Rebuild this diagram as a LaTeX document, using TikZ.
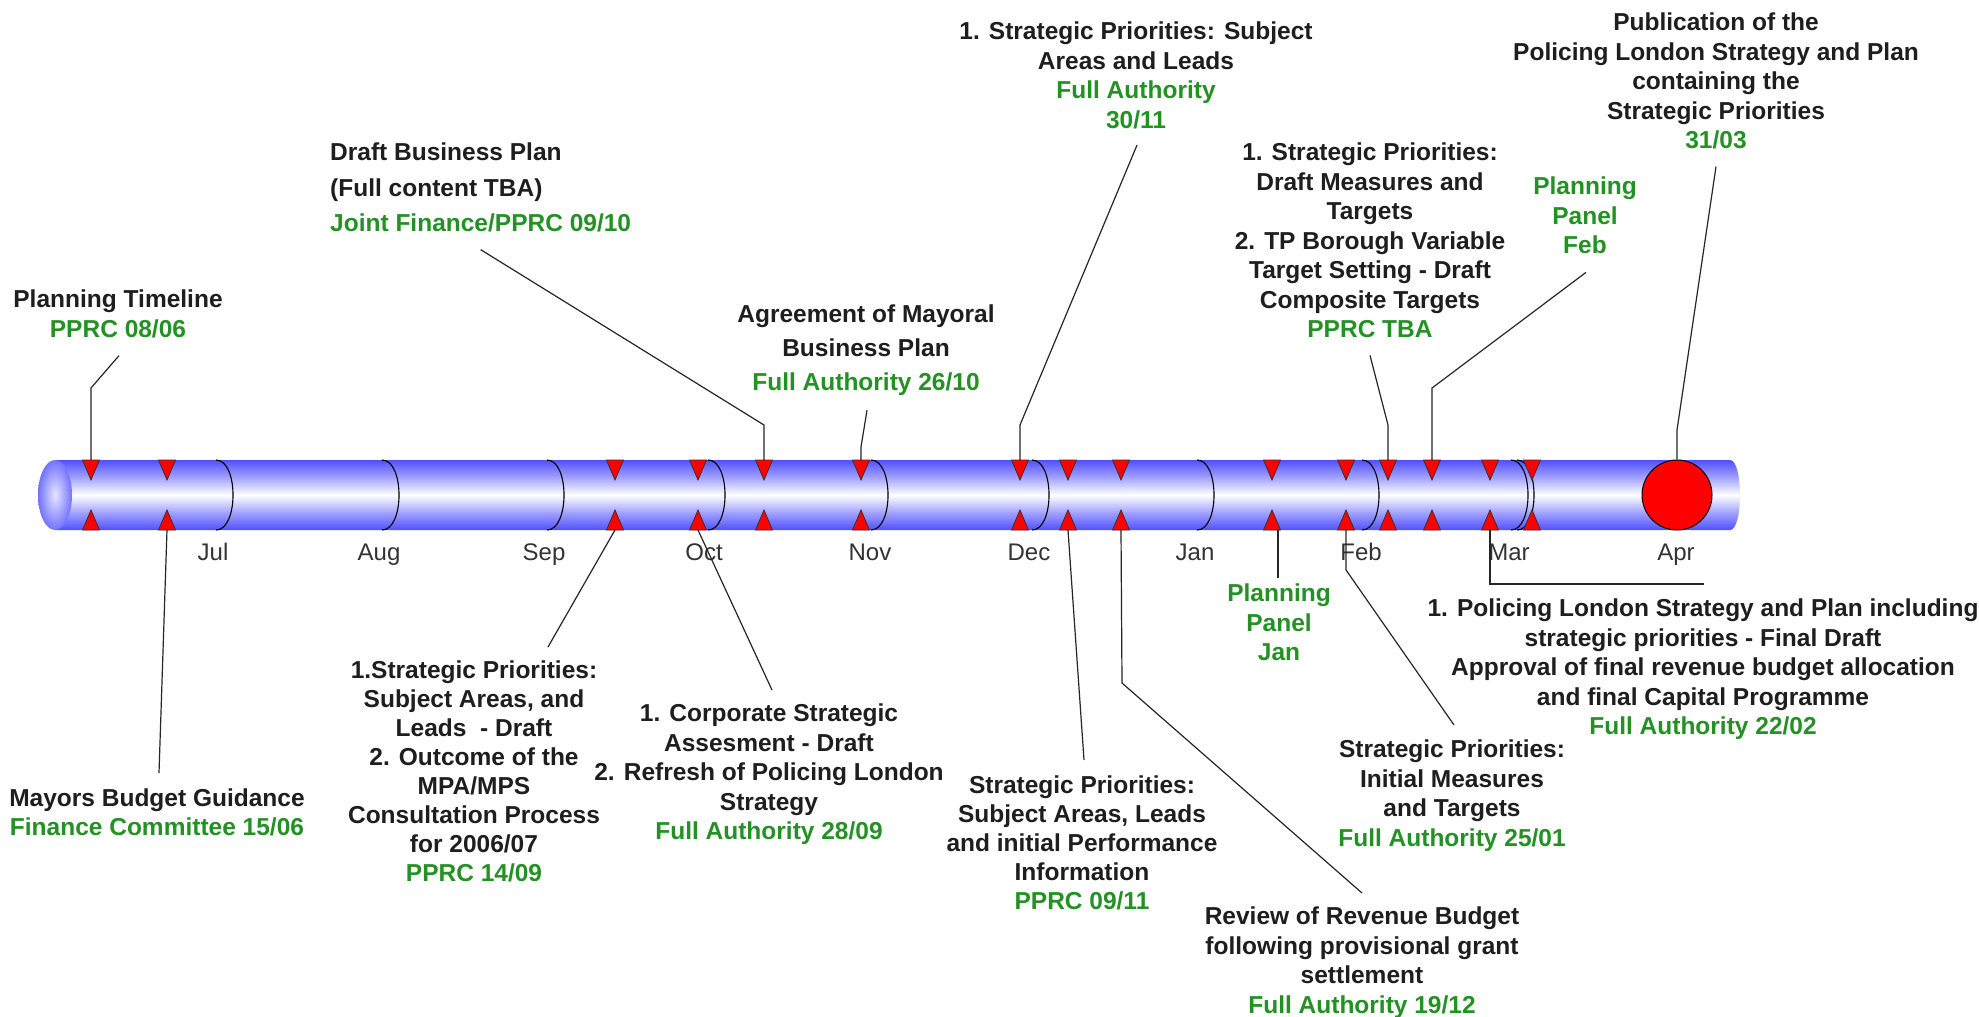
\documentclass[tikz,border=0pt]{standalone}
\usepackage{fontspec}
\setmainfont{Liberation Sans}
\usetikzlibrary{calc}
\definecolor{tubeblue}{RGB}{80,80,255}
\definecolor{lblgreen}{RGB}{35,145,35}
\definecolor{txt}{RGB}{30,30,30}
\newcommand{\grn}[1]{\textcolor{lblgreen}{#1}}
\pgfdeclareverticalshading{tubeshade}{100bp}{color(0bp)=(tubeblue); color(25bp)=(tubeblue); color(37bp)=(tubeblue!55!white); color(50bp)=(white); color(63bp)=(tubeblue!55!white); color(75bp)=(tubeblue); color(100bp)=(tubeblue)}
\begin{document}
\begin{tikzpicture}[x=1pt,y=-1pt,
  lbl/.style={align=center, inner sep=0pt, text=txt, anchor=north,
    font=\fontsize{24.5}{29.5}\selectfont\bfseries},
  conn/.style={draw=black!85, line width=1.2pt},
  tri/.style={fill=red, draw=black!80, line width=0.8pt},
  month/.style={font=\fontsize{24}{28}\selectfont, text=black!80, inner sep=0pt, anchor=base},
  marc/.style={draw=black, line width=1.1pt}
]
\useasboundingbox (0,0) rectangle (1979,1017);
\fill[white] (0,0) rectangle (1979,1017);

% tube
\shade[shading=tubeshade]
  (55,460) -- (1730,460) .. controls (1743.3,460) and (1743.3,530) .. (1730,530) -- (55,530) -- cycle;
\shade[inner color=white!85!tubeblue, outer color=tubeblue!80] (55,495) ellipse [x radius=17, y radius=35];

% month arcs
\foreach \x in {216,382,547,708,871,1032,1197,1362,1511,1517} {
  \draw[marc] (\x,460) .. controls (\x+22.7,460) and (\x+22.7,530) .. (\x,530);
}

% triangles
\foreach \x [count=\i] in {91,167,615,698,764,861,1020,1068,1121,1272,1346,1388,1432,1490,1532} {
  \filldraw[tri] (\x-8.5,460) -- (\x+8.5,460) -- (\x,480) -- cycle;
  \filldraw[tri] (\x-8.5,530) -- (\x+8.5,530) -- (\x,510) -- cycle;
  \coordinate (tt\i) at (\x,460);
  \coordinate (tb\i) at (\x,530);
}

% April circle
\node[circle, fill=red, draw=black, line width=1pt, minimum size=70pt, inner sep=0pt] (apr) at (1677,495) {};

% months
\node[month] (mJul) at (213,560) {Jul};
\node[month] (mAug) at (379,560) {Aug};
\node[month] (mSep) at (544,560) {Sep};
\node[month] (mOct) at (704,560) {Oct};
\node[month] (mNov) at (870,560) {Nov};
\node[month] (mDec) at (1029,560) {Dec};
\node[month] (mJan) at (1195,560) {Jan};
\node[month] (mFeb) at (1361,560) {Feb};
\node[month] (mMar) at (1509,560) {Mar};
\node[month] (mApr) at (1676,560) {Apr};

% labels above
\node[lbl, font=\fontsize{24.5}{30}\selectfont\bfseries] (A) at (118,290) {Planning Timeline\\\grn{PPRC 08/06}};
\node[lbl, anchor=north west, align=left, font=\fontsize{24.5}{35.5}\selectfont\bfseries] (C) at (330,143)
  {Draft Business Plan\\(Full content TBA)\\\grn{Joint Finance/PPRC 09/10}};
\node[lbl, font=\fontsize{24.5}{34}\selectfont\bfseries] (D) at (866,305)
  {Agreement of Mayoral\\Business Plan\\\grn{Full Authority 26/10}};
\node[lbl] (E) at (1136,22)
  {1. Strategic Priorities: Subject\\Areas and Leads\\\grn{Full Authority}\\\grn{30/11}};
\node[lbl] (F) at (1716,13)
  {Publication of the\\Policing London Strategy and Plan\\containing the\\Strategic Priorities\\\grn{31/03}};
\node[lbl] (G) at (1370,143)
  {1. Strategic Priorities:\\Draft Measures and\\Targets\\2. TP Borough Variable\\Target Setting - Draft\\Composite Targets\\\grn{PPRC TBA}};
\node[lbl] (H) at (1585,177) {\grn{Planning}\\\grn{Panel}\\\grn{Feb}};

% labels below
\node[lbl, font=\fontsize{24.5}{29}\selectfont\bfseries] (B) at (157,789)
  {Mayors Budget Guidance\\\grn{Finance Committee 15/06}};
\node[lbl, font=\fontsize{24.5}{29}\selectfont\bfseries] (I) at (474,661)
  {1.Strategic Priorities:\\Subject Areas, and\\Leads\ \ - Draft\\2. Outcome of the\\MPA/MPS\\Consultation Process\\for 2006/07\\\grn{PPRC 14/09}};
\node[lbl] (J) at (769,704)
  {1. Corporate Strategic\\Assesment - Draft\\2. Refresh of Policing London\\Strategy\\\grn{Full Authority 28/09}};
\node[lbl] (K) at (1279,584) {\grn{Planning}\\\grn{Panel}\\\grn{Jan}};
\node[lbl, font=\fontsize{24.5}{29}\selectfont\bfseries] (L) at (1082,776)
  {Strategic Priorities:\\Subject Areas, Leads\\and initial Performance\\Information\\\grn{PPRC 09/11}};
\node[lbl] (M) at (1362,907)
  {Review of Revenue Budget\\following provisional grant\\settlement\\\grn{Full Authority 19/12}};
\node[lbl] (N) at (1452,740)
  {Strategic Priorities:\\Initial Measures\\and Targets\\\grn{Full Authority 25/01}};
\node[lbl] (O) at (1703,599)
  {1. Policing London Strategy and Plan including\\strategic priorities - Final Draft\\Approval of final revenue budget allocation\\and final Capital Programme\\\grn{Full Authority 22/02}};

% connectors above
\draw[conn] ($(A.south)+(1,17)$) -- (91,388) -- (tt1);
\draw[conn] ($(C.south)+(0,17)$) -- (764,425) -- (tt5);
\draw[conn] ($(D.south)+(1,14)$) -- (861,447) -- (tt6);
\draw[conn] ($(E.south)+(1,16)$) -- (1020,425) -- (tt7);
\draw[conn] ($(F.south)+(0,17)$) -- (1677,430) -- (apr.north);
\draw[conn] ($(G.south)+(0,17)$) -- (1388,425) -- (tt12);
\draw[conn] ($(H.south)+(1,18)$) -- (1432,388) -- (tt13);

% connectors below
\draw[conn] (tb2) -- ($(B.north)+(2,-16)$);
\draw[conn] (tb3) -- ($(I.north)+(74,-14)$);
\draw[conn] (tb4) -- ($(J.north)+(3,-14)$);
\draw[conn] ($(tb10)+(6,0)$) -- ($(K.north)+(-1,-6)$);
\draw[conn] (tb8) -- ($(L.north)+(2,-16)$);
\draw[conn] (tb9) -- (1122,683) -- ($(M.north)+(0,-14)$);
\draw[conn] (tb11) -- (1346,570) -- ($(N.north)+(2,-15)$);
\draw[conn] (tb14) -- (1490,584) -- ($(O.north)+(1,-15)$);
\end{tikzpicture}
\end{document}
